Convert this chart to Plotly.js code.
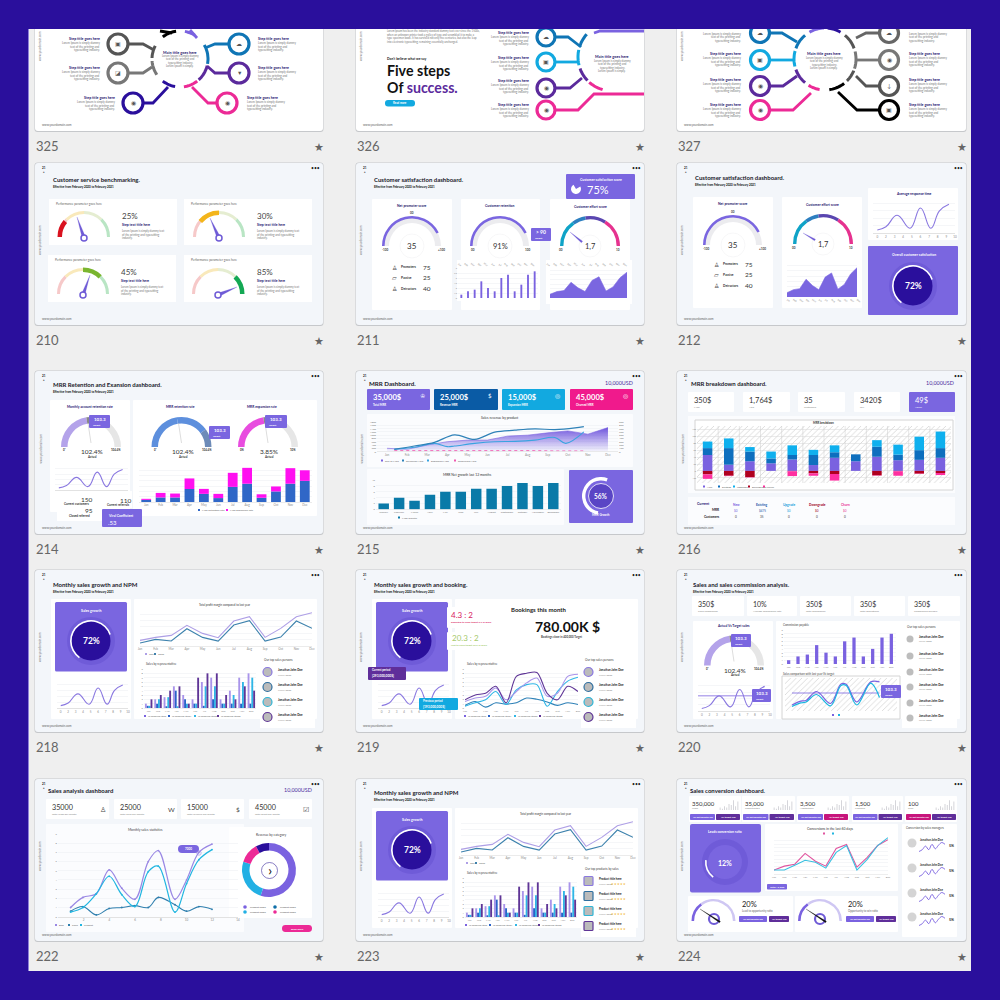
<!DOCTYPE html>
<html><head><meta charset="utf-8"><script src="https://cdn.plot.ly/plotly-3.0.1.min.js"></script>
<style>html,body{margin:0;padding:0;background:#2a0f9c}#c{width:1000px;height:1000px}</style></head>
<body><div id="c"></div><script>
// ---------- data ----------
const months=['Jan','Feb','Mar','Apr','May','Jun','Jul','Aug','Sep','Oct','Nov','Dec'];
const monthsLong=['January','February','March','April','May','June','July','August','September','October','November','December'];
const waveX=[1,2,3.3,4.8,6,7.2,8.2,9.3];
const waveY=[8,17,48,13,68,13,60,78];
const areaValues=[8,14,16,34,22,14,38,46,15,24,44,56];
const commissionBars=[1,2,2.5,5,3,2,6,7,2,4,7,8];
const retentionBlue=[2,4.3,4.3,12.3,7.7,3.7,14.3,17.3,4,10,17.3,20];
const expansionPink=[1,4.3,3.7,10,4.7,4,13.3,15,3.3,4.7,14.7,10];
const revenueArea=[200,140,400,600,700,700,940,1000,1140,1260,1060,1460];
const revenueDarkX=[0.36,1.36,2.36,3.36,4.36,5.36,6.36,7.36,8.36,9.36,9.8];
const revenueDark=[140,340,560,1020,740,1180,1300,1380,1340,1440,1520];
const revenueLightX=[0.36,1.36,2.36,3,3.36,4.36,5.36,6.36,7.36,8.36,8.9,9.8];
const revenueLight=[140,260,500,300,340,500,600,620,700,860,500,1200];
const revenuePinkX=[0.36,1.36,2.36,3.36,4.36,5.36,6.36,7.36,8.36,9.36,9.8];
const revenuePink=[60,60,100,80,60,80,100,60,40,50,40];
const netGrowth=[2,4,3,5,6,6,7,7,8,9,8,9];
const breakdownPurple=[46,18,28,22,33,17,38,28,41,31,32,38];
const breakdownBlue=[20,48,28,14,13,29,16,20,29,16,28,28];
const breakdownCyan=[19,28,13,20,28,15,20,0,19,29,39,48];
const breakdownRed=[-10,-14,-18,0,-1,-7,-9,0,-13,-1,-8,-6];
const breakdownPink=[-13,-1,-1,0,-14,-7,-19,0,-1,-13,-1,-6];
const hatchBackground=[1];
const npmThisYear=[1.6,2.5,3.1,6.1,3.7,2.4,7.4,8.7,2.5,5.2,8.7,9.9];
const npmLastYear=[0.8,1.9,1.4,5.1,2.5,1.4,6.2,7.5,1.4,2.6,7.4,5.2];
const repA=[1,2,2.5,5,3,2,6,7,2,4,7,8];
const repB=[0.5,1,0.4,4,2,1,0.5,2,1,1,1,1];
const repC=[0.5,2,2.5,0.4,1,1,5,5,1,3,6,7];
const repD=[2,3,4,5,1,7,8,8,3,2,5,4];
const bookingDark=[1.9,3,3.4,5,1.2,7.3,8,8.2,3.4,1.9,5,3.8];
const bookingLight=[1.5,2.3,2.7,4.6,1.9,3.8,5.8,6.9,2.7,3.4,7.3,7.8];
const bookingCyan=[0.4,1.2,1.9,3.8,0.8,4.2,5.4,5.4,0.4,3.8,6.2,7.1];
const bookingBlue=[0.6,1.5,0.2,1.2,0.9,1.2,2.3,2,1.4,0.6,1.2,0.8];
const compareX=[1,1.5,1.8,2.4,3.2,3.8,4.1,4.7,5.5,6];
const comparePurple=[10,23,25,55,15,80,79,20,87,87];
const compareCyan=[5,17,20,45,7,75,75,10,83,35];
const compareTarget=[50,50,50,50,50,50,50,50,50,50];
const statsX=[0.49,0.97,1.49,1.99,2.48,2.99,3.51,3.9,4.55,5,5.48,5.99];
const statsPurple=[1,2.1,2.5,5.1,3.1,1.9,6,7.2,1.9,4,7,7.9];
const statsCyan=[0.5,1,2.5,4.4,2.4,1.1,4.9,5.5,0.5,3.6,6.2,7.3];
const statsBlue=[0.6,1.1,0.2,0.9,1,1.2,1,2.1,1.3,0.6,1.1,0.8];
const revenueCategory=[55,25,12,8];
const convPink=[0.4,0.8,1,2.1,1.3,0.8,2.6,3,0.7,1.7,2.9,3.5];
const convCyan=[0.4,0.4,0.9,1.4,1.2,0.6,2.2,2.9,0.4,1.5,2.9,3.7];
const miniBars=[2,1,3,2,5,4,8,3,7];
const sparkY=[2,3,5,3,6,3.5,5.5,7,6];
const gaugeParts=[25,25,25,25];
const npsArc=[85,15], npsBase=[100];
const retentionGauge=[45,10,45];
const effortArc=[30,15,23,32];
const growthRing=[60,40], mrrRing=[53,47], leadRing=[16,84];
const smallGauge=[30,70];
const kpi215=['35,000$','25,000$','15,000$','45,000$'];
const kpi216=['350$','1,764$','35','3420$','49$'];
const kpi220=['350$','10%','350$','350$','350$'];
const kpi222=['35000','25000','15000','45000'];
const kpi224=['350,000','35,000','3,500','1,500','100'];
// ---------- helpers ----------
const PURPLE='#7a66e0',DARK='#2a0f9c',FONT='Lato',NARROW='Lato',NAVY='#1f1670';
const shapes=[],annotations=[],data=[];
const layout={width:1000,height:1000,margin:{l:0,r:0,t:0,b:0},paper_bgcolor:DARK,plot_bgcolor:'rgba(0,0,0,0)',barmode:'overlay',showlegend:false,shapes,annotations,font:{family:FONT},
 xaxis:{range:[0,1000],domain:[0,1],visible:false,fixedrange:true},yaxis:{range:[1000,0],domain:[0,1],visible:false,fixedrange:true}};
function shape(o,layer){o.xref='x';o.yref='y';o.layer=layer||'below';shapes.push(o);}
function rr(x0,y0,x1,y1,fill,r,layer,line,lw){r=r===undefined?1:r;
 const p=`M${x0+r},${y0} L${x1-r},${y0} Q${x1},${y0} ${x1},${y0+r} L${x1},${y1-r} Q${x1},${y1} ${x1-r},${y1} L${x0+r},${y1} Q${x0},${y1} ${x0},${y1-r} L${x0},${y0+r} Q${x0},${y0} ${x0+r},${y0} Z`;
 shape({type:'path',path:p,fillcolor:fill,line:{width:lw||0,color:line||'rgba(0,0,0,0)'}},layer);}
function circ(x,y,r,fill,layer,line,lw){shape({type:'circle',x0:x-r,x1:x+r,y0:y-r,y1:y+r,fillcolor:fill,line:{width:lw||0,color:line||'rgba(0,0,0,0)'}},layer);}
function path(p,color,w,layer,fill){shape({type:'path',path:p,line:{color,width:w},fillcolor:fill||'rgba(0,0,0,0)'},layer);}
function arc(cx,cy,r,a0,a1,color,w){let p='';for(let i=0;i<=10;i++){const a=(a0+(a1-a0)*i/10)*Math.PI/180;p+=(i?'L':'M')+(cx+r*Math.sin(a)).toFixed(1)+','+(cy-r*Math.cos(a)).toFixed(1)+' ';}path(p,color,w);}
function T(x,y,s,size,color,anchor,bold,extra){annotations.push(Object.assign({x,y,xref:'x',yref:'y',text:bold?'<b>'+s+'</b>':s,showarrow:false,xanchor:anchor||'left',yanchor:'middle',borderpad:0,font:{size,color:color||'#333',family:FONT}},extra||{}));}
function H(x,y,s,size,color,anchor,bold){T(x,y,s,size,color,anchor,bold,{font:{size,color,family:NARROW}});}
function pieAt(cx,cy,r,values,colors,rot,thick){data.push({type:'pie',values,sort:false,direction:'clockwise',rotation:rot||0,hole:thick?1-thick/r:0,marker:{colors,line:{width:0}},textinfo:'none',hoverinfo:'skip',showlegend:false,
 domain:{x:[(cx-r)/1000,(cx+r)/1000],y:[1-(cy+r)/1000,1-(cy-r)/1000]}});}
function gauge(cx,cy,r,thick,values,colors){const s=values.reduce((a,b)=>a+b,0);pieAt(cx,cy,r,values.concat([s]),colors.concat(['rgba(0,0,0,0)']),-90,thick);}
function needle(hx,hy,tx,ty,w,color){const dx=tx-hx,dy=ty-hy,l=Math.hypot(dx,dy),nx=-dy/l*w,ny=dx/l*w;path(`M${hx+nx},${hy+ny} L${tx},${ty} L${hx-nx},${hy-ny} Z`,color,0.2,'above',color);}
let axN=1;
function chart(rect,traces,xo,yo){axN++;const id=axN;
 const base={showgrid:false,zeroline:false,showline:false,ticks:'',fixedrange:true,tickfont:{size:3,color:'#8a8a8a',family:FONT}};
 layout['xaxis'+id]=Object.assign({},base,{domain:[rect[0]/1000,rect[2]/1000],anchor:'y'+id},xo||{});
 layout['yaxis'+id]=Object.assign({},base,{domain:[1-rect[3]/1000,1-rect[1]/1000],anchor:'x'+id},yo||{});
 traces.forEach(t=>{t.xaxis='x'+id;t.yaxis='y'+id;t.hoverinfo='skip';t.showlegend=false;data.push(t);});}
const grid={showgrid:true,gridcolor:'#eceef2',gridwidth:0.5};
function frame(x0,y0,x1,y1,bg,num){rr(x0-0.5,y0-0.5,x1+0.5,y1+1,'#c6c8cb',3);rr(x0,y0,x1,y1,bg,3);
 T(x0,y1+15,num,13,'#666');T(x1-4,y1+15,'★',11,'#666','center');
 T(x0+8.5,y0+5,'21',3,'#222','center',true);T(x0+8.5,y0+9,'●',2.5,'#444','center');T(x1-8,y0+4.5,'•••',5,'#222','center');
 T(x0+5,(y0+y1)/2-4,'www.yourdomain.com',3,'#777','center',false,{textangle:-90});T(x0+6,y1-6,'www.yourdomain.com',3,'#666');}
function title(x,y,s,size,sub){H(x,y,s,size||6,'#1a1a2a','left',true);if(sub!==false)T(x,y+7.3,'Effective from February 2020 to February 2021',2.9,'#111','left',true);}
function lorem(x,y,anchor,n,gap,size){const L=['Lorem Ipsum is simply dummy','text of the printing and','typesetting industry.','Lorem Ipsum is simply.'];for(let i=0;i<(n||3);i++)T(x,y+i*(gap||3.6),L[i],size||3,'#777',anchor);}
function ring(cx,cy,label,ringVals,rot){circ(cx,cy,24,'#6f5bd8');circ(cx,cy,19.5,DARK);pieAt(cx,cy,21,ringVals,['#fff','rgba(0,0,0,0)'],rot,1.6);T(cx,cy,label,8.5,'#fff','center',true);}
function wave(rect,extra,xo){const w={x:waveX,y:waveY,type:'scatter',mode:'lines',line:{color:'#8a78e0',width:1.1,shape:'spline',smoothing:1.3}};
 chart(rect,(extra||[]).concat([w]),Object.assign({range:[0.5,10],tickvals:[1,2,3,4,5,6,7,8,9,10],ticktext:['0','2','3','4','5','6','7','8','9','10'],showline:true,linecolor:'#e2e2e2',linewidth:1},xo||{}),Object.assign({range:[0,95],showticklabels:false,nticks:6},grid));}
function node(x,y,r,color,g){circ(x,y,r,'#fff','below',color,3.2);T(x,y,g||'▣',5.5,'#555','center');}
function step(x,y,anchor){T(x,y,'Step title goes here',3.6,NAVY,anchor,true);lorem(x,y+5,anchor,3,3.6,2.9);}
function chip(x0,y0,x1,y1,color,s){rr(x0,y0,x1,y1,color,0.8);T((x0+x1)/2,(y0+y1)/2,s,2.6,'#fff','center',true);}
function targetBox(x0,y0,x1,y1,v,size){rr(x0,y0,x1,y1,PURPLE,1,'above');T(x0+(x1-x0)/2,y0+4,v,size||4.5,'#fff','center',true);T(x0+3,y1-3,'Target',2.6,'#fff','left',true);}
function legendDot(x,y,c,s){rr(x,y-1,x+2,y+1,c,0,'above');T(x+3,y,s,2.6,'#666');}
// ---------- page ----------
rr(28,29,971,971,'#efefef',0);rr(28,29,29,971,'#8d80d8',0);
const cols=[[35,323],[356,644],[677,966]];
// ----- row 0
[[0,'325'],[1,'326'],[2,'327']].forEach(([c,n])=>frame(cols[c][0],-31,cols[c][1],131,'#fff',n));
// 325
arc(180,59,28,10,32,'#7a62e0',3);arc(180,59,28,60,100,'#0f75b5',3);arc(180,59,28,104,138,'#5b2a9c',3);arc(180,59,28,142,172,'#ec2a96',3);arc(180,59,28,190,218,DARK,3);arc(180,59,28,236,266,'#777',3);arc(180,59,28,272,298,'#555',3);arc(180,59,28,322,352,'#000',3);
path('M127,44 L143,44 L154,50','#555',2.8);path('M127,73 L143,73 L152,67','#777',2.8);path('M143,103 L153,103 L168,87','#2a0f9c',2.8);path('M229,44 L215,44 L205,48','#0f75b5',2.8);path('M229,73 L215,73 L207,66','#5b2a9c',2.8);path('M216,103 L208,103 L192,87','#ec2a96',2.8);path('M160,31 L172,33','#000',2.8);path('M190,30 L197,38','#7a62e0',2.8);
[[118,44,'#555','▣'],[118,73,'#777','◪'],[133,103,DARK,'◉'],[239,44,'#0f75b5','☁'],[239,73,'#5b2a9c','▼'],[227,103,'#ec2a96','◉']].forEach(a=>node(a[0],a[1],10,a[2],a[3]));
T(180,52,'Main title goes here',3.8,NAVY,'center',true);lorem(180,56,'center',4,3.4,2.8);
step(101,38,'right');step(101,67,'right');step(116,97,'right');step(257,38,'left');step(257,67,'left');step(246,97,'left');
// 326
arc(612,57,34,196,222,'#ec2a96',3);arc(612,57,34,226,250,'#5b2a9c',3);arc(612,57,34,256,282,'#12a9e0',3);arc(612,57,34,288,312,'#0f75b5',3);
path('M556,37 L568,37 L581,47','#0f75b5',2.8);path('M556,62 L578,62','#12a9e0',2.8);path('M556,88 L570,88 L582,78','#5b2a9c',2.8);path('M556,110 L578,110 L594,94 L644,94','#ec2a96',2.8);path('M594,33 L600,31 L644,31','#7a62e0',2.8);
[[546,37,'#0f75b5','☁'],[546,62,'#12a9e0','▣'],[546,88,'#5b2a9c','◉'],[546,110,'#ec2a96','◉']].forEach(a=>node(a[0],a[1],9,a[2],a[3]));
T(612,56,'Main title goes here',3.8,NAVY,'center',true);lorem(612,61,'center',4,3.4,2.8);
[32,57,80,104].forEach(y=>{T(530,y,'Step title goes here',3.6,NAVY,'right',true);lorem(530,y+5,'right',3,3.6,2.9);});
['Lorem Ipsum has been the industry standard dummy text ever since the 1500s,','when an unknown printer took a galley of type and scrambled it to make a','type specimen book. It has survived not only five centuries, but also the leap','into electronic typesetting, remaining essentially unchanged.'].forEach((s,i)=>T(386,31+i*3.6,s,2.7,'#777'));
T(386,58.5,"Don't believe what we say",3.4,'#222','left',true);T(386,70,'Five steps',14.2,'#111','left',true);T(386,87.5,'Of <span style="color:#5b2a9c">success.</span>',14.2,'#111','left',true);
rr(385,100,415,106.5,'#12a9e0',3);T(400,103.2,'Read more',2.8,'#fff','center',true);
// 327
[[40,70,'#555'],[76,108,'#777'],[112,135,'#555'],[142,172,'#000'],[190,212,'#ec2a96'],[220,250,'#5b2a9c'],[256,285,'#12a9e0'],[290,320,'#0f75b5'],[330,358,'#7a62e0'],[5,30,DARK]].forEach(a=>arc(825,59,31,a[0],a[1],a[2],3));
path('M770,33 L782,33 L797,42','#0f75b5',2.8);path('M770,60 L794,60','#12a9e0',2.8);path('M770,86 L783,86 L797,76','#5b2a9c',2.8);path('M770,110 L793,110 L811,93','#ec2a96',2.8);
path('M879,33 L866,33 L856,38','#666',2.8);path('M879,60 L856,60','#777',2.8);path('M879,86 L866,86 L856,76','#555',2.8);path('M879,110 L857,110 L838,92','#000',2.8);
[[760,33,'#0f75b5','☁'],[760,60,'#12a9e0','▣'],[760,86,'#5b2a9c','◉'],[760,110,'#ec2a96','◉'],[889,33,'#666','☁'],[889,60,'#777','◉'],[889,86,'#555','↓'],[889,110,'#000','▣']].forEach(a=>node(a[0],a[1],9.5,a[2],a[3]));
T(824,53,'Main title goes here',3.8,NAVY,'center',true);lorem(824,58,'center',4,3.4,2.8);
[53,79,104].forEach(y=>{T(742,y,'Step title goes here',3.6,NAVY,'right',true);lorem(742,y+5,'right',3,3.6,2.9);T(908,y,'Step title goes here',3.6,NAVY,'left',true);lorem(908,y+5,'left',3,3.6,2.9);});
lorem(742,33.5,'right',3,3.6,2.9);lorem(908,33.5,'left',3,3.6,2.9);
// ----- row 1 : 210
frame(35,163,323,325,'#f3f6fa','210');title(52,179,'Customer service benchmarking.');
const g210=[[49,199,177,245,84,238,'25%',[77,217],[22,78],'#d9121f'],[184,199,312,245,219,238,'30%',[210,218],[22,28,50],'#f3b51b'],[48,255,176,302,83,295,'45%',[90,275],[50,25,25],'#7ab52f'],[184,255,312,302,218,295,'85%',[237,287],[75,25],'#14a854']];
g210.forEach((g,i)=>{rr(g[0],g[1],g[2],g[3],'#fff',0);T(g[0]+6,g[1]+5,'Performance parameter goes here',3.1,'#666');
 gauge(g[4],g[5]-1,26,3,gaugeParts,['#f6c9c9','#f9e9bb','#e5edd1','#b9e5c4']);
 const seg=g[8];const cols2=seg.map((v,j)=>(i==0&&j==0)||(i==1&&j==1)||(i==2&&j==1)||(i==3&&j==1)?g[9]:'rgba(0,0,0,0)');
 gauge(g[4],g[5]-1,26.5,4.5,seg,cols2);
 needle(g[4],g[5],g[7][0],g[7][1],1.8,'#6f5bd6');circ(g[4],g[5],3,'#fff','above','#6f5bd6',1.5);
 T(g[0]+72,g[1]+17,g[6],8,'#444');T(g[0]+72,g[1]+26,'Step text title here',3.4,NAVY,'left',true);
 ['Lorem Ipsum is simply dummy text','of the printing and typesetting','industry.'].forEach((s,k)=>T(g[0]+72,g[1]+32+k*3.6,s,2.8,'#777'));});
// 211 + 212 shared parts
function npsGauge(cx,cy,l,r){gauge(cx,cy,29,6,npsBase,['#ececef']);gauge(cx,cy,30,2.6,npsArc,[PURPLE,'rgba(0,0,0,0)']);circ(cx,cy,12,'#fff','above','#f1f1f4',0.6);T(cx,cy,'35',8,'#333','center');T(cx,cy-33,'00',3,'#444','center',true);T(cx-27,cy+4,l,3,'#444','center',true);T(cx+29,cy+4,r,3,'#444','center',true);}
function npsRows(x,y){[['Promoters','75','♙'],['Passive','25','▱'],['Detractors','40','♙']].forEach((a,i)=>{T(x,y+i*10.8,a[2],6,'#444','center');T(x+6,y+i*10.8,a[0],3.2,'#333','left',true);T(x+33,y+i*10.8,a[1],6.5,'#333','center');});}
function effort(cx,cy,nx0,ny0){gauge(cx,cy,30,3.4,effortArc,['#0fa3c7','#2d7fc0','#5a46b0','#e6328f']);circ(cx,cy,11,'#fff','above','#f1f1f4',0.6);T(cx,cy,'1,7',7.5,'#333','center');T(cx-29,cy+4,'00',3,'#444','center',true);T(cx+28,cy+4,'10',3,'#444','center',true);needle(cx-8,cy-4,nx0,ny0,1,'#6f5bd6');}
const areaTrace=()=>({x:months,y:areaValues,type:'scatter',mode:'lines',fill:'tozeroy',fillcolor:PURPLE,line:{color:PURPLE,width:0.6}});
frame(356,163,644,325,'#f3f6fa','211');title(373,179,'Customer satisfaction dashboard.');
[[372,199,452,310],[461,199,540,310],[550,199,630,310]].forEach(a=>rr(a[0],a[1],a[2],a[3],'#fff',1));
rr(566,174,635,199,PURPLE,1);T(601,179.5,'Customer satisfaction score',3.4,'#fff','center',true);pieAt(576,189,5,[75,25],['#fff','rgba(0,0,0,0)'],60);T(586,189.5,'75%',11,'#fff');
T(412,206,'Net promoter score',3.4,NAVY,'center',true);T(500,206,'Customer retention',3.4,NAVY,'center',true);T(590,206,'Customer effort score',3.4,NAVY,'center',true);
npsGauge(412,246,'-100','+100');npsRows(394,267);
gauge(500,246,29,6,npsBase,['#ececef']);gauge(500,246,30,2.6,npsArc,[PURPLE,'rgba(0,0,0,0)']);circ(500,246,12,'#fff','above','#f1f1f4',0.6);T(500,246,'91%',7.5,'#333','center');T(473,250,'00',3,'#444','center',true);T(527,250,'100',3,'#444','center',true);
rr(531,228,551,241,PURPLE,1,'above');T(541,232,'> 90',5,'#fff','center',true);T(538,238,'Target',2.6,'#fff','center',true);
effort(590,246,570,232);
rr(457,260,540,301,'#fff',0);rr(546,260,632,304,'#fff',0);
chart([458,268,538,298],[{x:months,y:commissionBars,type:'bar',width:0.28,marker:{color:'#7a62e0'}}],{side:'top',tickfont:{size:2.4,color:'#888'},tickmode:'array',tickvals:months,ticktext:months},Object.assign({range:[0,9],dtick:1.5,tickfont:{size:2.2,color:'#888'},showticklabels:true},grid));
chart([550,268,627,298],[areaTrace()],{side:'top',tickfont:{size:2.4,color:'#888'},range:[0,11],tickvals:months,ticktext:months},Object.assign({range:[0,65],showticklabels:false,dtick:10},grid));
// 212
frame(677,163,966,325,'#f3f6fa','212');title(694,177,'Customer satisfaction dashboard.');
[[693,197,773,308],[782,197,862,308],[868,188,958,240]].forEach(a=>rr(a[0],a[1],a[2],a[3],'#fff',1));
T(733,204,'Net promoter score',3.4,NAVY,'center',true);T(822,204,'Customer effort score',3.4,NAVY,'center',true);T(914,194,'Average response time',3.4,NAVY,'center',true);
npsGauge(733,245,'-100','+100');npsRows(716,264);effort(823,244,803,233);
chart([787,263,857,297],[areaTrace()],{range:[0,11],tickvals:months,ticktext:months,tickfont:{size:2.4,color:'#888'}},Object.assign({range:[0,65],showticklabels:false,dtick:10},grid));
wave([873,198,955,233]);
rr(868,246,958,315,PURPLE,1);T(914,255,'Overall customer satisfaction',3.4,'#fff','center',true);ring(913,286,'72%',growthRing,-145);
// ----- row 2 : 214
frame(35,371,323,534,'#f3f6fa','214');title(52,384,'MRR Retention and Exansion dashboard.');
rr(50,400,130,512,'#fff',1);rr(133,400,317,516,'#fff',1);
T(90,407,'Monthly account retention rate',3.3,NAVY,'center',true);T(180,407,'MRR retention rate',3.3,NAVY,'center',true);T(262,407,'MRR expansion rate',3.3,NAVY,'center',true);
function retention(cx,cy,col,vals,tb,v,l,r){gauge(cx,cy,30,6.5,vals,col);path(`M${cx-3},${cy-24} L${cx},${cy-4}`,'#bbb',0.5,'above');targetBox(tb[0],tb[1],tb[2],tb[3],'103.3');T(cx+1,cy+4.5,v,6.5,'#333','center');T(cx+1,cy+9.5,'Actual',3,'#333','center',true);T(cx-26,cy+3,l,2.8,'#333','center',true);T(cx+25,cy+3,r,2.8,'#333','center',true);}
retention(91,447,['#b4a3ea','#888','#e6e6e6'],retentionGauge,[89,415,110,428],'102.4%','0*','104.4%');
retention(181.5,447,['#5d8fdd','#5d8fdd','#6d8bb8'],[45,35,20],[209,426,230,439],'102.4%','0*','104.4%');
retention(268,447,['#e84cdf','#888','#e6e6e6'],retentionGauge,[265,415,287,428],'3.85%','0%','10%');
wave([55,465,128,490]);
rr(57,491,102,521,'#fff',0,'above');rr(102,491,132,508,'#fff',0,'above');
T(87,499,'150',6.5,'#333','center');T(76,504,'Current customers',3,'#333','center',true);T(89,510.5,'95',6.5,'#333','center');T(79,516,'Closed referred',3,'#333','center',true);T(126,500,'110',6.5,'#333','center');T(118,505,'Current referrals',3,'#333','center',true);
rr(102,509,142,527,PURPLE,1,'above');T(107,515,'Viral Coefficient',3.4,'#fff','left',true);T(107,522,'.53',6,'#fff','left');
chart([139,465,312,502],[{x:months,y:retentionBlue,type:'bar',width:0.68,marker:{color:'#3067c7'}},{x:months,y:expansionPink,base:retentionBlue,type:'bar',width:0.68,marker:{color:'#ff0ff0'}}],{showline:true,linecolor:'#ddd',linewidth:0.6,tickvals:months,ticktext:months},Object.assign({range:[0,35],dtick:5,showticklabels:false},grid));
legendDot(198,510,'#3067c7','MRR Retention rate');legendDot(226,510,'#ff0ff0','MRR Expansion rate');
// 215
frame(356,371,644,534,'#f3f6fa','215');H(368,383,'MRR Dashboard.',6.2,'#1a1a2a','left',true);H(634,383,'10,000USD',5.4,'#4a2a9c','right');
[[367,430,PURPLE,'Total MRR','♔'],[434,498,'#0a5ba5','Revenue MRR','$'],[502,565,'#12a9e0','Expansion MRR','◎'],[570,633,'#f01a8c','Churned MRR','◎']].forEach((a,i)=>{rr(a[0],389,a[1],410,a[2],1);T(a[0]+5,397,kpi215[i],7.6,'#fff','left',true);T(a[0]+5,404.5,a[3],2.8,'#fff','left',true);T(a[1]-8,395,a[4],6,'#fff','center');});
rr(367,414,633,467,'#fbfcfe',1);T(500,418,'Sales revenue by product',3.4,'#333','center');
const revTicks=[0,1,2,3,4,5,6,7,8,9,10,11];
chart([377,422,618,451.6],[{x:revTicks,y:revenueArea,type:'scatter',mode:'lines',fill:'tozeroy',fillgradient:{type:'vertical',colorscale:[[0,'rgba(122,98,224,0.05)'],[1,'rgba(110,84,220,1)']]},line:{color:'#7a62e0',width:0.6}},
 {x:revenuePinkX,y:revenuePink,type:'scatter',mode:'lines',line:{color:'#f05ab0',width:0.9,dash:'dot'}},
 {x:revenueLightX,y:revenueLight,type:'scatter',mode:'lines',line:{color:'#3aa3e0',width:1.1,shape:'spline'}},
 {x:revenueDarkX,y:revenueDark,type:'scatter',mode:'lines',line:{color:'#2f82b8',width:1.2,shape:'spline'}}],
 {range:[-0.5,11.5],tickvals:revTicks,ticktext:months,showline:true,linecolor:'#ddd',linewidth:0.6},Object.assign({range:[0,1800],dtick:200,showticklabels:true,tickfont:{size:2.6,color:'#777'}},grid));
chart([377,422,618,451.6],[{x:[0],y:[0],type:'scatter',mode:'none'}],{range:[-0.5,11.5],showticklabels:false},{side:'right',range:[0,900],dtick:100,showticklabels:true,tickfont:{size:2.6,color:'#777'}});
[[381,'Run of MRR','#7a62e0'],[402,'Revenues MRR','#2f82b8'],[427,'Expansion MRR','#3aa3e0'],[454,'Recovered MRR','#f05ab0']].forEach(a=>legendDot(a[0],460.5,a[2],a[1]));
rr(367,469,564,525,'#fbfcfe',1);T(467,475,'MRR Net growth last 12 months',3.4,'#333','center');
chart([376,480,561,509.5],[{x:monthsLong,y:netGrowth,type:'bar',width:0.68,marker:{color:'#0a7aa8'}}],{tickvals:monthsLong,ticktext:monthsLong,showline:true,linecolor:'#ddd',linewidth:0.5,tickfont:{size:2.6,color:'#777'}},Object.assign({range:[0,10],dtick:2,showticklabels:true,tickfont:{size:2.4,color:'#777'}},grid));
legendDot(398,517.5,'#0a7aa8','MRR Growth');
rr(569,470,633,523,PURPLE,1);circ(601,496,12.5,'#5a45c5','above','#fff',0.8);pieAt(601,496,19,mrrRing,['#fff','rgba(0,0,0,0)'],190,3.4);T(601,496,'56%',6.5,'#fff','center',true);T(601,515,'MRR Growth',3,'#fff','center',true);
// 216
frame(677,371,966,534,'#f3f6fa','216');H(690,383,'MRR breakdown dashboard.',6,'#1a1a2a','left',true);H(955,383,'10,000USD',5.4,'#4a2a9c','right');
const lab216=['MRR','ARR','Customers','LTV','ARPU'];
[[688,734],[743,790],[798,845],[854,900],[909,955]].forEach((a,i)=>{rr(a[0],392,a[1],412,i==4?PURPLE:'#fff',1);T(a[0]+5,400,kpi216[i],7.5,i==4?'#fff':'#333');T(a[0]+5,406.5,lab216[i],2.6,i==4?'#fff':'#888');});
rr(688,416,955,493,'#fbfcfe',0);rr(695,420,953,490,'#fff',0,'below','#d4d4d4',1);T(823,422.5,'MRR breakdown',2.8,'#333','center',true);
const hatch=(rect)=>chart(rect,[{x:[0],y:hatchBackground,type:'bar',width:1,marker:{color:'#fff',pattern:{shape:'/',fgcolor:'#c6c6c6',bgcolor:'#fff',size:4,solidity:0.15}}}],{range:[-0.5,0.5],showticklabels:false},{range:[0,1],showticklabels:false});
hatch([697,426,951,483]);
const b216=breakdownPurple.map((v,i)=>v+breakdownBlue[i]);
chart([697,426,951,483],[{x:months,y:breakdownPurple,type:'bar',width:0.45,marker:{color:'#7a62e0'}},{x:months,y:breakdownBlue,base:breakdownPurple,type:'bar',width:0.45,marker:{color:'#0e6fbe'}},{x:months,y:breakdownCyan,base:b216,type:'bar',width:0.45,marker:{color:'#0fb0ee'}},{x:months,y:breakdownRed,type:'bar',width:0.45,marker:{color:'#b0001f'}},{x:months,y:breakdownPink,base:breakdownRed,type:'bar',width:0.45,marker:{color:'#ff2fa0'}}],
 {showticklabels:false,tickvals:months},{range:[-35,130],dtick:20,showgrid:true,gridcolor:'#d8d8d8',gridwidth:0.5,showticklabels:true,tickfont:{size:2.2,color:'#888'}});
for(let i=1;i<12;i++)shape({type:'line',x0:697+i*254/12,x1:697+i*254/12,y0:426,y1:483,line:{color:'#ccc',width:0.5}},'above');
[['New','#7a62e0'],['Existing','#0e6fbe'],['Upgrades','#0fb0ee'],['Downgrades','#b0001f'],['Churn','#ff2fa0']].forEach((a,i)=>legendDot(703+i*15,486.5,a[1],a[0]));
rr(688,497,955,525,'#fbfcfe',0);T(703,503,'Current',3.6,NAVY,'center',true);T(721,510,'MRR',3.2,'#222','right',true);T(721,517,'Customers',3.2,'#222','right',true);
[[736,'New','$0','0','#7a62e0'],[762,'Existing','$475','35','#1c55a8'],[789,'Upgrade','$0','0','#1ba0dc'],[817,'Downgrade','$0','0','#a00018'],[845,'Churn','$0','0','#e83090']].forEach(a=>{T(a[0],505,a[1],3.2,a[4],'center',true);T(a[0],511,a[2],3,a[4],'center');T(a[0],517,a[3],3,'#333','center');});
// ----- row 3 & row 4 sales dashboards
function salesLeft(dx,dy){rr(51+dx,599+dy,131+dx,719+dy,'#fff',1);rr(134+dx,599+dy,317+dx,719+dy,'#fff',1);rr(55+dx,602+dy,127+dx,671.5+dy,PURPLE,1.5);T(91+dx,610+dy,'Sales growth',3.6,'#fff','center',true);ring(91+dx,641+dy,'72%',growthRing,-145);wave([57+dx,680+dy,128+dx,708+dy]);}
function npmLines(dx,dy){T(225+dx,605+dy,'Total profit margin compared to last year',2.9,'#333','center');
 chart([140+dx,607.7+dy,312+dx,645.7+dy],[{x:months,y:npmThisYear,type:'scatter',mode:'lines',line:{color:'#ae9fe6',width:1.1}},{x:months,y:npmLastYear,type:'scatter',mode:'lines',line:{color:'#3d82ad',width:1.1}}],{tickvals:months,ticktext:months,showline:true,linecolor:'#ddd',linewidth:0.6},Object.assign({range:[0,11.4],dtick:1.9,showticklabels:false},grid));
 legendDot(145+dx,654+dy,'#ae9fe6','2021');legendDot(154+dx,654+dy,'#3d82ad','2020');}
function groupBars(dx,dy){T(145+dx,663.5+dy,'Sales by representative',3,'#444');
 const colors=['#a994ea','#2a62c8','#2fb6e6','#5f3596'];const sets=[repA,repB,repC,repD];
 chart([144+dx,669+dy,256+dx,708+dy],sets.map((v,i)=>({x:months.map((m,k)=>k),y:v,type:'bar',width:0.2,offset:-0.4+i*0.2,marker:{color:colors[i]}})),{range:[-0.5,11.5],tickvals:months.map((m,k)=>k),ticktext:months,showline:true,linecolor:'#ddd',linewidth:0.5,tickfont:{size:2.6,color:'#8a8a8a'}},Object.assign({range:[0,9],dtick:1,showticklabels:true,tickfont:{size:2.4,color:'#777'}},grid));
 [['In-medium Item','#7a62e0',144],['In-medium Item1','#2a62c8',168],['In-medium Item2','#2fb6e6',194],['In-medium Item3','#5f3596',217]].forEach(a=>legendDot(a[2]+dx,716+dy,a[1],a[0]));}
function persons(dx,dy,ys,cols3,label,x,sq){T(x+dx,660+dy,label,3,'#444');rr(x-3+dx,708+dy,x+52+dx,728+dy,'#fff',0);ys.forEach((y,i)=>{if(sq){rr(x+dx,y-4.5+dy,x+9+dx,y+4.5+dy,'#bbb',1,'below',cols3[i],1.2);}else circ(x+4.5+dx,y+dy,4.5,'#bbb','below',cols3[i],1.2);
 T(x+14+dx,y-2+dy,sq?'Product title here':'Jonathan John Doe',2.9,'#222','left',true);T(x+14+dx,y+3+dy,'XXXX Sales',2.6,'#777');if(sq)T(x+26+dx,y+3+dy,'★★★★★',2.8,'#f3b51b');});}
const cP=['#8a78e0','#2f6f9f','#2fb6d6','#5f3596'];
frame(35,570,323,732,'#f3f6fa','218');title(52,584,'Monthly sales growth and NPM');salesLeft(0,0);npmLines(0,0);groupBars(0,0);persons(0,0,[672,687,702,717],cP,'Our top sales persons',263);
frame(356,570,644,732,'#f3f6fa','219');title(373,584,'Monthly sales growth and booking.');salesLeft(321,0);
rr(447,607,497,628,'#fff',1,'above');rr(447,632,497,650,'#fff',1,'above');
T(450,615,'4.3 : 2',8,'#d81a60');T(450,622,'Expected to close target 3.2 or more',2.5,'#d81a60','left',true);T(451,638,'20.3 : 2',8,'#a4c96a');T(450,645,'Lost to close target 20.3 or more',2.5,'#a4c96a','left',true);
T(538,609,'Bookings this month',6,'#222','center',true);T(567,626,'780.00K $',14,'#111','center',true);T(562,636.5,'Bookings close in 400,000 Target',2.8,'#444','center',true);
rr(368,667,406,680,'#5f2e9a',1,'above');T(371,670,'Current period',2.8,'#fff','left',true);T(371,675.5,'[293,000,000$]',3.2,'#fff','left',true);
rr(419,698,458,710,'#12a9e0',1,'above');T(422,701,'Previous period',2.8,'#fff','left',true);T(422,706,'[193,000,000$]',3.2,'#fff','left',true);
T(466,663.5,'Sales by representative',3,'#444');
chart([465,669,578,708],[[bookingBlue,'#2f82b8'],[bookingCyan,'#2fb6e6'],[bookingLight,'#a994ea'],[bookingDark,'#5f3596']].map(a=>({x:months,y:a[0],type:'scatter',mode:'lines',line:{color:a[1],width:1.1,shape:'spline',smoothing:0.9}})),{tickvals:months,ticktext:months,tickfont:{size:2.6,color:'#8a8a8a'}},Object.assign({range:[0,9],dtick:1,showticklabels:true,tickfont:{size:2.4,color:'#777'}},grid));
[['In-medium Item','#7a62e0',464],['In-medium Item1','#2a62c8',488],['In-medium Item2','#2fb6e6',514],['In-medium Item3','#5f3596',539]].forEach(a=>legendDot(a[2],716,a[1],a[0]));
persons(0,0,[672,687,702,717],cP,'Our top sales persons',584);
// 220
frame(677,570,966,732,'#f3f6fa','220');title(692,584,'Sales and sales commission analysis.');
const lab220=['Sales commission','Average commission rate','Total commission','Total deductions','Commission payable'];
[[692,744],[747,797],[800,851],[854,905],[908,960]].forEach((a,i)=>{rr(a[0],596,a[1],616,'#fff',1);T(a[0]+5,604,kpi220[i],7,'#333');T(a[0]+5,611,lab220[i],2.6,'#888');});
rr(693,621,773,719,'#fff',1);rr(776,621,960,719,'#fff',1);T(733,626,'Actual Vs Target sales',3.3,NAVY,'center',true);
retention(734,665.5,['#b4a3ea','#888','#e6e6e6'],retentionGauge,[731,634,751,647],'102.4%','0*','104.4%');
wave([698,681,770,711],[{x:[0.5,10],y:[48,48],type:'scatter',mode:'lines',line:{color:'#7a62e0',width:0.8}}]);
targetBox(752,689,771,702,'103.3');
T(782,625,'Commission payable',2.9,'#444');
chart([784,630,896,664],[{x:months,y:commissionBars,type:'bar',width:0.35,marker:{color:'#7a62e0'}}],{tickvals:months,ticktext:months,tickfont:{size:2.6,color:'#8a8a8a'}},Object.assign({range:[0,9],dtick:1,showticklabels:true,tickfont:{size:2.4,color:'#777'}},grid));
T(782,674,'Sales comparison with last year Vs target',2.9,'#444');rr(782,676,900,719,'#fff',0,'below','#d4d4d4',1);
hatch([785,678,897,711]);
chart([785,678,897,711],[{x:compareX,y:compareTarget,type:'scatter',mode:'lines',line:{color:'#7a62e0',width:0.8}},{x:compareX,y:comparePurple,type:'scatter',mode:'lines',line:{color:'#7a62e0',width:1.2,shape:'spline'}},{x:compareX,y:compareCyan,type:'scatter',mode:'lines',line:{color:'#1ab6e0',width:1.2,shape:'spline'}}],{range:[0.6,7],showticklabels:false},{range:[-10,100],showticklabels:false});
targetBox(881,685,901,698,'103.3');
legendDot(832,715,'#7a62e0','');legendDot(838,715,'#1ab6e0','');
T(906,627,'Our top sales persons',3,'#444');rr(902,710,957,728,'#fff',0);
[639,656,672,687,703,718].forEach(y=>{circ(910,y,3.5,'#bdbdbd');T(918,y-2,'Jonathan John Doe',2.9,'#222','left',true);T(918,y+2.5,'XXXX Sales',2.5,'#777');});
// 222
frame(35,779,323,941,'#f3f6fa','222');H(47,790,'Sales analysis dashboard',6,'#1a1a2a','left',true);H(313,790,'10,000USD',5.4,'#4a2a9c','right');
const lab222=['Total leads per month','Total sales per month','Total revenue per month','Total profit per month'];
[[46,109,'♙'],[114,177,'W'],[181,244,'$'],[249,312,'☑']].forEach((a,i)=>{rr(a[0],799,a[1],819,'#fff',1);T(a[0]+5,807,kpi222[i],7.2,'#333');T(a[0]+5,813.5,lab222[i],2.6,'#888');T(a[1]-6,809,a[2],6.5,'#444','center');});
rr(46,824,244,932,'#fbfcfe',1);T(145,830,'Monthly sales statistics',3.4,'#444','center');
const mk=c=>({size:1.8,color:c});
chart([58,834,238,916.7],[{x:statsX,y:statsBlue,type:'scatter',mode:'lines+markers',marker:mk('#2f7fae'),line:{color:'#2f7fae',width:1.1,shape:'spline'}},{x:statsX,y:statsPurple,type:'scatter',mode:'lines+markers',marker:mk('#9a88e4'),line:{color:'#9a88e4',width:1.2,shape:'spline'}},{x:statsX,y:statsCyan,type:'scatter',mode:'lines+markers',marker:mk('#22b6e0'),line:{color:'#22b6e0',width:1.2,shape:'spline'}}],{range:[0,7],tickvals:[1,2,3,4,5,6,7],ticktext:['2','4','6','8','10','12','14'],showline:true,linecolor:'#e2e2e2',linewidth:1},Object.assign({range:[0,9],dtick:1,showticklabels:true,tickfont:{size:2.4,color:'#777'}},grid));
rr(178,845,199,853,PURPLE,4,'above');T(188.5,849,'7000',3,'#fff','center',true);circ(199,853,2.2,'rgba(0,0,0,0)','above','#9a88e4',0.6);
legendDot(55,925,'#9a88e4','Bob');legendDot(68,925,'#2f7fae','Sales');legendDot(80,925,'#22b6e0','Product');
rr(229,827,312,918,'#fff',1);T(271,835,'Revenue by category',3.3,'#444','center');
pieAt(269,870,27,revenueCategory,['#7a62e0','#22b0e4','#ec2a96',DARK],0,7.5);circ(269.5,870.5,8,'#fff','above','#3a2a9c',0.6);T(269.5,871,'❯',5,'#111','center');
[[245,907,'#7a62e0'],[275,907,'#0f6fa8'],[245,912,'#22b0e4'],[275,912,'#ec2a96']].forEach(a=>{circ(a[0],a[1],1.8,a[2]);T(a[0]+4,a[1],'Product name',2.6,'#555');});
rr(282,925,312,932,'#ec2a96',3.4);T(297,928.6,'Read more',2.6,'#fff','center',true);
// 223
frame(356,779,644,941,'#f3f6fa','223');title(373,792,'Monthly sales growth and NPM');salesLeft(321,209);npmLines(321,209);groupBars(321,209);persons(321,209,[672,687,702,717],cP,'Our top products by sales',263,true);
// 224
frame(677,779,966,941,'#f3f6fa','224');H(689,790,'Sales conversion dashboard.',6,'#1a1a2a','left',true);
const lab224=['Leads','Opportunities','Negotiations','Proposals','Sales'];
[[689,741],[742,795],[797,849],[852,903],[905,957]].forEach((a,i)=>{rr(a[0],796,a[1],822,'#fff',1);T(a[0]+2,803,kpi224[i],6,'#333');T(a[0]+2,808.5,lab224[i],2.4,'#888');
 chart([a[1]-22,799,a[1]-2,810],[{y:miniBars,type:'bar',width:0.35,marker:{color:'#c9c9cf'}}],{showticklabels:false,range:[-0.5,8.5]},{showticklabels:false,range:[0,9]});
 const w=(a[1]-a[0])/2-1;chip(a[0]+1,814,a[0]+w+1,820,i==4?'#c7157c':'#7a62e0','Vs last month 3%');chip(a[0]+w+2,814,a[1]-1,820,i==2?'#c7157c':'#5f2e9a','Vs target 3%');});
rr(690,824,761,892.5,PURPLE,2);T(725,831.5,'Leads conversion ratio',3.4,'#fff','center',true);pieAt(725,862,23,[100],['#6f5bd8'],0,6);pieAt(725,862,20,leadRing,['#fff','rgba(0,0,0,0)'],218,1.6);T(725,862.5,'12%',7,'#fff','center',true);
rr(765,824,898,891,'#fff',1);T(830,829,'Conversions in the last 60 days',3.4,'#333','center');legendDot(823,833.5,'#e0559f','');legendDot(832,833.5,'#22b6e0','');
chart([774,836.7,888,874],[{x:months,y:convPink,type:'scatter',mode:'lines',line:{color:'#e0559f',width:1.1}},{x:months,y:convCyan,type:'scatter',mode:'lines',line:{color:'#3ac0e0',width:1.1}}],{tickvals:months,ticktext:months,showline:true,linecolor:'#ddd',linewidth:0.5,tickfont:{size:2.6,color:'#8a8a8a'}},Object.assign({range:[0,3.8],dtick:0.38,showticklabels:false},grid));
rr(767,884,787,889.5,PURPLE,0.8);T(777,886.8,'Total : 3,500',2.6,'#fff','center',true);
rr(688,896,793,932,'#fff',1);rr(795,896,898,932,'#fff',1);
[[713.5,714,741,'Lead to opportunity ratio',739],[820,820,847,'Opportunity to win ratio',846]].forEach(a=>{gauge(a[0],921,22,2.6,smallGauge,['#7a62e0','#cfc7f3']);circ(a[1],919,5,'#fff','above','#6f5bd6',2.2);needle(a[1]+6,922,a[1]-14,909,0.8,'#111');T(a[2],904,'20%',7.5,'#222');T(a[2],911,a[3],2.8,'#666');chip(a[4],916,a[4]+28,922,'#7a62e0','Vs last month 3%');chip(a[4]+30,916,a[4]+50,922,'#5f2e9a','Vs target 3%');});
rr(902,824,957,937,'#fff',1);T(905,828,'Conversion by sales managers',2.9,'#444');
[843,868,893,917].forEach(y=>{circ(912,y,4.5,'#d4d4d4');T(919,y-3,'Jonathan John Doe',2.7,'#222','left',true);T(948,y+2,'5%',3.6,'#222','left',true);
 chart([919,y-1,945,y+9],[{y:sparkY,type:'scatter',mode:'lines',line:{color:'#7a62e0',width:0.9,shape:'spline'}}],{showticklabels:false},{showticklabels:false});});
// masks
rr(0,0,1000,29,DARK,0,'above');
Plotly.newPlot('c',data,layout,{staticPlot:true,displayModeBar:false});
</script></body></html>
